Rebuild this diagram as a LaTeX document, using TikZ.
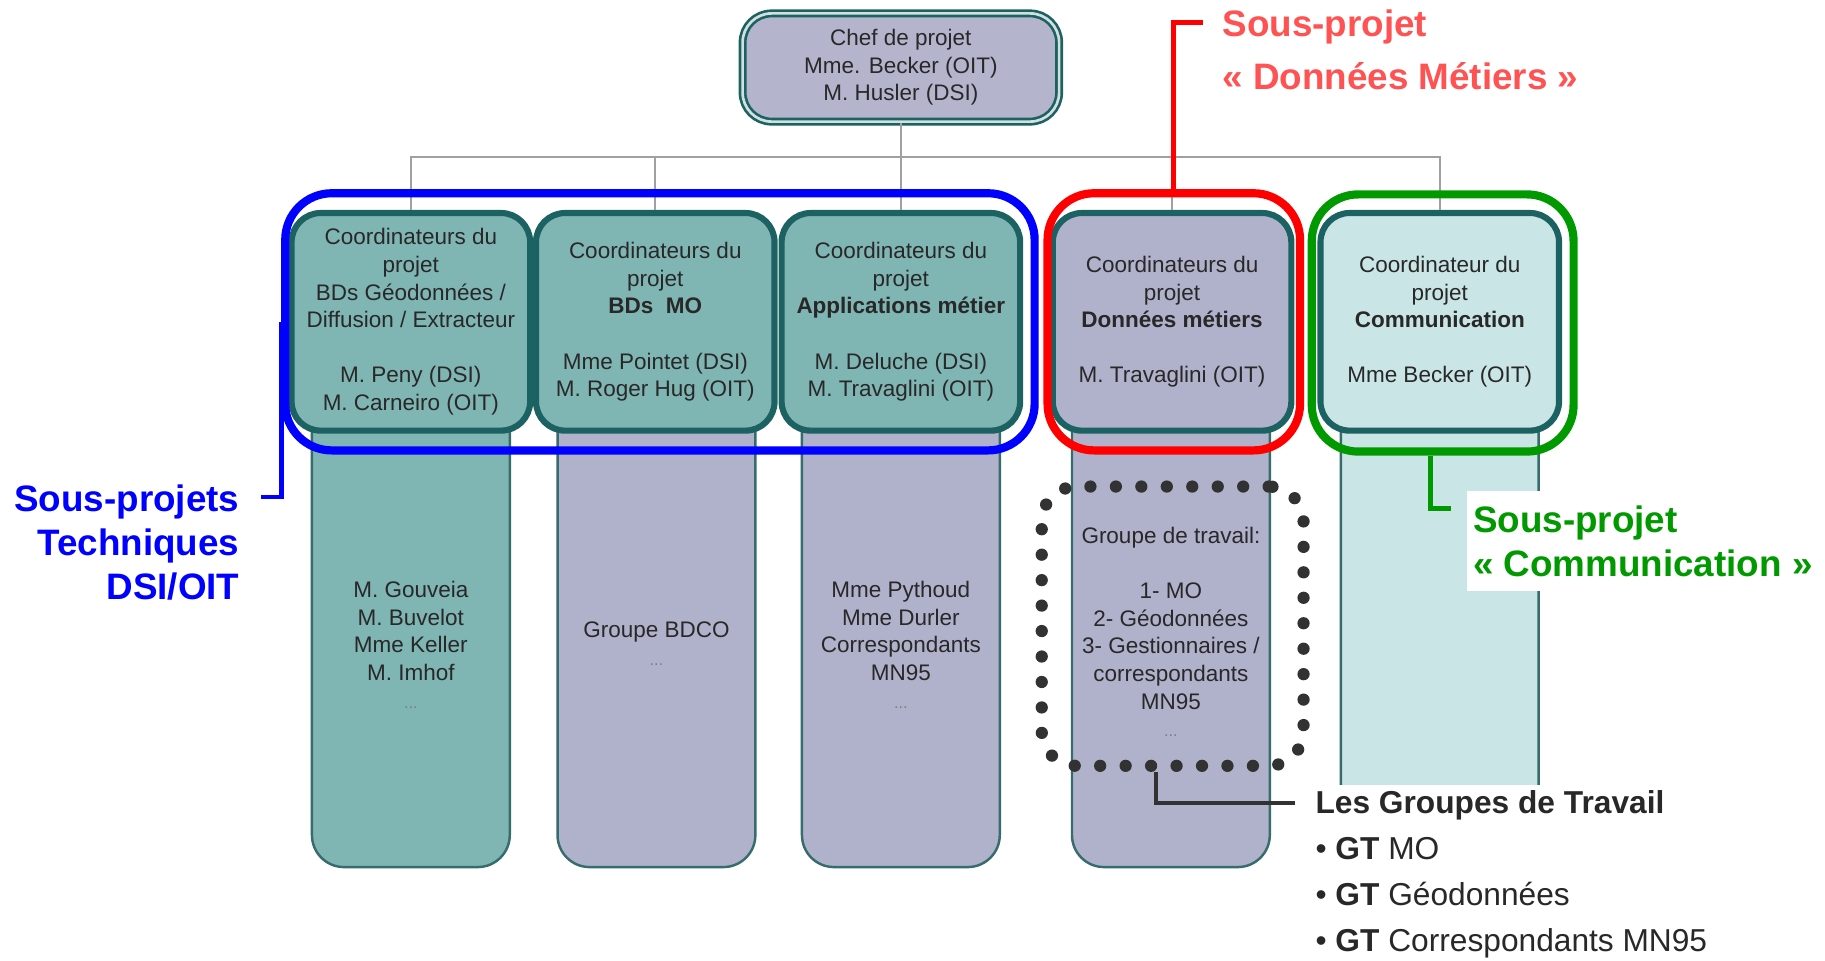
\documentclass[tikz,border=0pt]{standalone}
\usepackage{fontspec}
\setmainfont{Liberation Sans}
\usepackage{tikz}
\usetikzlibrary{positioning,calc}

\definecolor{tealline}{RGB}{28,98,98}
\definecolor{colline}{RGB}{55,108,108}
\definecolor{tealfill}{RGB}{127,181,179}
\definecolor{lavfill}{RGB}{176,178,204}
\definecolor{palefill}{RGB}{202,229,229}
\definecolor{cheffill}{RGB}{180,181,205}
\definecolor{linkgray}{RGB}{160,160,160}
\definecolor{txtgray}{RGB}{40,40,40}
\definecolor{dotgray}{RGB}{50,50,50}
\definecolor{sgreen}{RGB}{0,153,0}
\definecolor{sred}{RGB}{255,82,82}

\tikzset{
	boxfont/.style={font=\fontsize{11}{13.5}\selectfont},
	chefbox/.style={draw=tealline,double=white!80!tealline,double distance=1.3pt,line width=1.3pt,
		fill=cheffill,rounded corners=0.5cm,minimum width=5.44cm,minimum height=1.86cm,
		inner sep=0pt,align=center,text=txtgray,boxfont},
	coordbox/.style={draw=tealline,line width=3pt,rounded corners=0.5cm,minimum width=4.1cm,
		minimum height=3.74cm,inner sep=0pt,align=center,text=txtgray,boxfont},
	column/.style={draw=colline,line width=1.2pt,rounded corners=0.55cm,minimum width=3.4cm,
		minimum height=8.3cm,inner sep=0pt},
	coltext/.style={align=center,text=txtgray,inner sep=0pt,boxfont},
	link/.style={draw=linkgray,line width=1.1pt},
	subframe/.style={line width=4pt,rounded corners=0.8cm,minimum height=4.42cm,inner sep=0pt},
	bracket/.style={line width=2.4pt},
	gtdots/.style={draw=dotgray,line width=6pt,dash pattern=on 0pt off 12.45pt,line cap=round,
		rounded corners=0.6cm,minimum width=4.5cm,minimum height=4.8cm,inner sep=0pt},
	gtlink/.style={draw=dotgray,line width=1.8pt},
	bigfont/.style={font=\bfseries\fontsize{18}{21.5}\selectfont}
}
\newcommand{\etc}{\textcolor{gray}{\fontsize{8}{8}\selectfont...}}

\begin{document}
\begin{tikzpicture}[x=0.02cm,y=-0.02cm]
	\useasboundingbox (0,0) rectangle (1568,825);
	%
	\node[column,fill=tealfill] (G1) at (353,537.5) {};
	\node[column,fill=lavfill] (G2) at (564,537.5) {};
	\node[column,fill=lavfill] (G3) at (774,537.5) {};
	\node[column,fill=lavfill] (G4) at (1006,537.5) {};
	\node[column,fill=palefill] (G5) at (1237,537.5) {};
	%
	\node[coltext] (G1t) at (353,554) {M. Gouveia\\M. Buvelot\\Mme Keller\\M. Imhof\\\etc};
	\node[coltext] (G2t) at (564,553) {Groupe BDCO\\\etc};
	\node[coltext] (G3t) at (774,554) {Mme Pythoud\\Mme Durler\\Correspondants\\MN95\\\etc};
	\node[coltext] (G4t) at (1006,543) {Groupe de travail:\\[13.5pt]1- MO\\2- Géodonnées\\3- Gestionnaires /\\correspondants\\MN95\\\etc};
	%
	\node[chefbox] (chef) at (774,58) {Chef de projet\\Mme. Becker (OIT)\\M. Husler (DSI)};
	\coordinate (bus) at (774,135);
	%
	\node[coordbox,fill=tealfill] (C1) at (353,276.5) {Coordinateurs du\\projet\\BDs Géodonnées /\\Diffusion / Extracteur\\[13.5pt]M. Peny (DSI)\\M. Carneiro (OIT)};
	\node[coordbox,fill=tealfill] (C2) at (563,276.5) {Coordinateurs du\\projet\\\textbf{BDs\ \ MO}\\[13.5pt]Mme Pointet (DSI)\\M. Roger Hug (OIT)};
	\node[coordbox,fill=tealfill] (C3) at (774,276.5) {Coordinateurs du\\projet\\\textbf{Applications métier}\\[13.5pt]M. Deluche (DSI)\\M. Travaglini (OIT)};
	\node[coordbox,fill=lavfill] (C4) at (1007,276.5) {Coordinateurs du\\projet\\\textbf{Données métiers}\\[13.5pt]M. Travaglini (OIT)};
	\node[coordbox,fill=palefill] (C5) at (1237,276.5) {Coordinateur du\\projet\\\textbf{Communication}\\[13.5pt]Mme Becker (OIT)};
	%
	\draw[link] (chef.south) -- (bus);
	\foreach \n in {C1,C2,C3,C4,C5}
		\draw[link] (bus) -| (\n.north);
	%
	\node[subframe,draw=blue,minimum width=12.88cm] (techframe) at (567,276.5) {};
	\node[subframe,draw=red,minimum width=4.34cm] (dataframe) at (1008.5,276.5) {};
	\node[subframe,draw=sgreen,minimum width=4.5cm] (commframe) at (1239.5,277.5) {};
	%
	\coordinate (techtip) at (224,427);
	\coordinate (datatip) at (1034,19);
	\coordinate (commtip) at (1247,437);
	\draw[bracket,blue] (techframe.west) |- (techtip);
	\draw[bracket,red] (dataframe.north) |- (datatip);
	\draw[bracket,sgreen] ($(commframe.south)+(-10.5,0)$) |- (commtip);
	%
	\node[bigfont,text=blue,align=right,anchor=east,inner sep=0pt] (techlab) at (206,466)
		{Sous-projets\\Techniques\\DSI/OIT};
	\node[bigfont,text=sred,align=left,anchor=west,inner sep=0pt,
		font=\bfseries\fontsize{18}{26}\selectfont] (datalab) at (1050,43)
		{Sous-projet\\« Données Métiers »};
	\node[bigfont,text=sgreen,align=left,anchor=west,fill=white,inner xsep=3pt,inner ysep=7pt] (commlab) at (1260,465)
		{Sous-projet\\« Communication »};
	%
	\node[gtdots] (gtframe) at (1007.5,538) {};
	\coordinate (gttip) at (1113,690);
	\draw[gtlink] ($(gtframe.south)+(-14.5,0)$) |- (gttip);
	%
	\node[anchor=west,fill=white,inner xsep=6.8pt,inner ysep=3pt,align=left,text=txtgray,
		font=\fontsize{15.5}{22.5}\selectfont] (gtlist) at (1118,751.5)
		{\textbf{Les Groupes de Travail}\\\textbullet\ \textbf{GT} MO\\\textbullet\ \textbf{GT} Géodonnées\\\textbullet\ \textbf{GT} Correspondants MN95};
\end{tikzpicture}
\end{document}
